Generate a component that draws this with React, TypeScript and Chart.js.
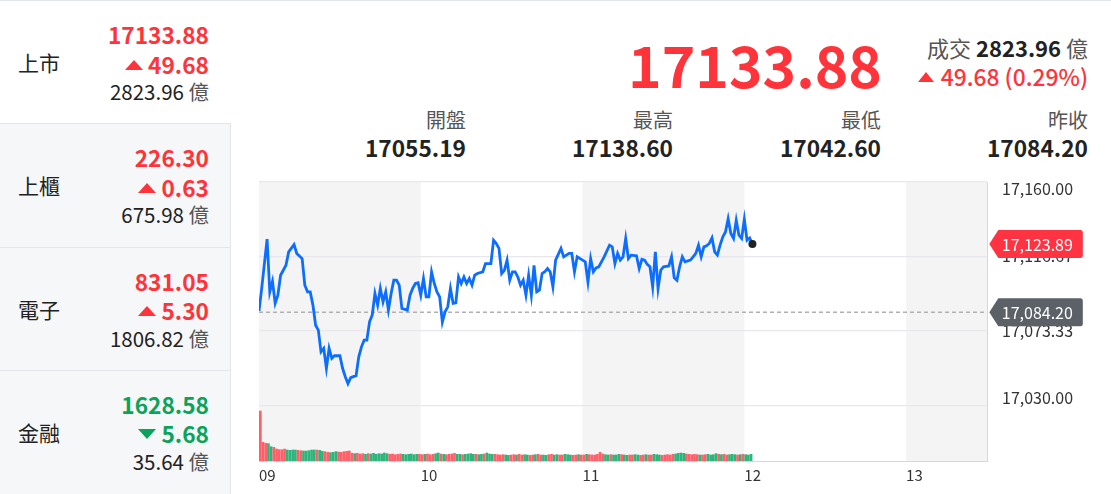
import React, { useEffect, useRef } from 'react';
import { Chart, registerables } from 'chart.js';

Chart.register(...registerables);

const FONT = '"Noto Sans CJK TC", "Noto Sans", sans-serif';
const RED = '#ff333a';
const GREEN = '#0aa35a';

// ---- sidebar data ----
const sideNames = ['上市', '上櫃', '電子', '金融'];
const sideValues = ['17133.88', '226.30', '831.05', '1628.58'];
const sideChanges = ['49.68', '0.63', '5.30', '-5.68'];
const sideVolumes = ['2823.96', '675.98', '1806.82', '35.64'];

// ---- header data ----
const lastPrice = '17133.88';
const turnover = '2823.96';
const priceChange = '49.68';
const pctChange = '0.29%';
const statLabels = ['開盤', '最高', '最低', '昨收'];
const statValues = ['17055.19', '17138.60', '17042.60', '17084.20'];

// ---- chart data ----
const hourLabels = ['09', '10', '11', '12', '13'];
const hourMinutes = [0, 60, 120, 180, 240];
const sessionEndMinute = 270;
const priceTicks = [17160, 17116.67, 17073.33, 17030];
const priceAxisMin = 16997.5;
const prevClose = 17084.2;
const lastTagPrice = 17123.89;

const lineMinutes = [
  0, 1, 3, 4, 5, 6, 7, 8, 10, 11, 13, 14, 16, 17, 18, 19, 20, 21, 22, 23,
  24, 25, 26, 27, 28, 30, 31, 32, 33, 34, 36, 37, 38, 39, 40, 41, 42, 43, 44, 45,
  46, 47, 48, 49, 50, 51, 52, 53, 55, 56, 57, 58, 59, 60, 61, 62, 63, 64, 65, 66,
  67, 68, 69, 70, 71, 72, 73, 74, 75, 76, 77, 78, 79, 80, 81, 83, 84, 86, 87, 88,
  89, 90, 91, 92, 93, 94, 95, 96, 97, 98, 99, 100, 101, 102, 103, 104, 105, 106, 107, 108,
  109, 110, 112, 113, 115, 116, 117, 118, 120, 121, 122, 123, 124, 125, 126, 128, 130, 131, 132, 133,
  134, 135, 136, 137, 138, 140, 141, 142, 143, 144, 145, 146, 147, 148, 149, 150, 152, 153, 154, 155,
  156, 157, 158, 160, 161, 162, 163, 164, 165, 166, 167, 168, 169, 170, 171, 172, 173, 174, 175, 176,
  177, 178, 179, 180, 181, 182, 183,
];
const linePrices = [
  17084.8, 17098.0, 17126.7, 17096.0, 17102.2, 17089.4, 17094.1, 17105.7, 17111.5, 17119.3,
  17123.6, 17118.4, 17115.4, 17099.9, 17096.0, 17096.0, 17088.3, 17076.6, 17073.7, 17061.1,
  17063.1, 17051.5, 17063.1, 17057.3, 17058.8, 17058.8, 17051.5, 17046.6, 17042.6, 17046.0,
  17047.2, 17058.2, 17064.0, 17067.9, 17067.9, 17078.6, 17082.5, 17095.1, 17088.3, 17098.0,
  17090.2, 17096.0, 17085.4, 17095.1, 17102.8, 17102.8, 17099.9, 17086.4, 17085.4, 17094.1,
  17098.0, 17100.9, 17101.3, 17094.1, 17103.8, 17093.1, 17093.1, 17107.7, 17100.9, 17096.0,
  17093.1, 17078.4, 17084.4, 17087.3, 17098.0, 17089.3, 17089.6, 17104.7, 17100.9, 17104.7,
  17100.9, 17103.8, 17099.9, 17105.7, 17106.7, 17107.7, 17112.5, 17112.5, 17126.1, 17124.2,
  17121.3, 17106.7, 17108.6, 17114.5, 17102.8, 17107.7, 17107.7, 17104.7, 17099.9, 17102.8,
  17094.1, 17105.7, 17094.1, 17111.5, 17096.0, 17097.0, 17106.7, 17107.7, 17109.6, 17107.7,
  17098.9, 17114.5, 17121.3, 17116.4, 17118.4, 17118.4, 17107.7, 17116.4, 17114.5, 17113.5,
  17101.8, 17115.4, 17107.7, 17110.0, 17110.6, 17116.4, 17123.2, 17122.2, 17112.5, 17118.4,
  17114.5, 17116.4, 17127.1, 17115.4, 17117.4, 17117.0, 17109.6, 17115.0, 17114.5, 17112.0,
  17110.6, 17098.9, 17119.3, 17098.0, 17108.6, 17110.6, 17111.1, 17116.4, 17104.2, 17102.8,
  17110.6, 17116.4, 17113.5, 17114.5, 17116.4, 17118.4, 17123.2, 17116.4, 17122.2, 17122.8,
  17124.2, 17127.4, 17119.3, 17117.4, 17123.2, 17128.0, 17130.9, 17138.6, 17130.0, 17127.1,
  17137.7, 17129.0, 17127.1, 17138.3, 17126.1, 17127.4, 17123.89,
];

// per-minute turnover (億), 09:00 .. 12:02
const volumes = [
  75, 28, 26.5, 26, 21.5, 20.5, 18, 17, 17, 18,
  16.5, 16, 16.5, 16.5, 16, 15.5, 15, 15, 15.5, 16.5,
  16.5, 16.5, 16, 14.5, 14, 13, 12.5, 13, 14, 13.5,
  13, 14, 14.5, 15, 11.5, 11, 11.5, 10.5, 11, 10,
  11, 10.5, 11.5, 10, 11, 10.5, 12, 11, 10, 10.5,
  9.5, 10, 10.5, 10, 9.5, 10, 10.5, 9.5, 10, 10,
  9.5, 10, 10.5, 9.5, 10, 11, 12, 10.5, 10, 9.5,
  10, 10.5, 11.5, 10, 10, 9.5, 10, 10.5, 11, 10,
  10, 9.5, 10, 10.5, 12, 10.5, 10, 10, 9.5, 9,
  9.5, 9, 8.5, 9, 9.5, 9, 10, 9, 9.5, 9,
  8.5, 9, 9.5, 10, 9, 9, 8.5, 9.5, 10, 9,
  9.5, 9, 9, 10, 9.5, 9, 8.5, 9, 9.5, 9,
  9, 10, 9.5, 9, 9, 10, 13, 10.5, 9.5, 9,
  9.5, 9, 9, 10, 9.5, 9, 8.5, 9, 9, 9.5,
  9, 8.5, 9, 9.5, 9, 9, 10, 9.5, 9, 8.5,
  9, 9.5, 9, 10, 10.5, 11.5, 12, 11.5, 10.5, 10,
  9.5, 10, 9.5, 9, 9, 9.5, 10, 9, 9.5, 11,
  10, 9.5, 10, 9, 9.5, 10, 9.5, 9, 9.5, 10,
  9.5, 9, 10,
];
const volumeDirs =
  'rrrggrrrrr' + 'ggggrrgggg' + 'grggrrgggr' + 'rrrrrgrrrg' + 'rgggggggrr' +
  'rrrggggggr' + 'rgrrrggrgr' + 'rrrggrgggg' + 'rggrgggrrr' + 'rggrrgrrgg' +
  'rrgrrggrrg' + 'grrgggrrgr' + 'rgrrrrrrgg' + 'rgggrggrrg' + 'grrgrrgggr' +
  'rrrrggggrr' + 'rrrgrrgggg' + 'rgrrgggrgr' + 'ggg';
const volumeAxisMax = 419;

const fmt = (v: number) =>
  v.toLocaleString('en-US', { minimumFractionDigits: 2, maximumFractionDigits: 2 });

const W = 1111;

function Txt(props: {
  x: number; cy: number; size: number; lh?: number; align?: 'left' | 'right';
  weight?: number | string; color?: string; children: any;
}) {
  const lh = props.lh ?? Math.round(props.size * 1.3);
  const style: any = {
    position: 'absolute',
    top: props.cy - lh / 2,
    height: lh,
    lineHeight: lh + 'px',
    fontSize: props.size,
    fontWeight: props.weight ?? 400,
    color: props.color ?? '#222',
    whiteSpace: 'nowrap',
    display: 'flex',
    alignItems: 'center',
  };
  if (props.align === 'left') style.left = props.x;
  else style.right = W - props.x;
  return <div style={style}>{props.children}</div>;
}

function Tri({ up, w, h, color, gap }: { up: boolean; w: number; h: number; color: string; gap: number }) {
  const s: any = {
    display: 'inline-block',
    width: 0,
    height: 0,
    borderLeft: `${w / 2}px solid transparent`,
    borderRight: `${w / 2}px solid transparent`,
    marginRight: gap,
  };
  if (up) s.borderBottom = `${h}px solid ${color}`;
  else s.borderTop = `${h}px solid ${color}`;
  return <span style={s} />;
}

function IntradayChart() {
  const ref = useRef<HTMLCanvasElement>(null);
  useEffect(() => {
    if (!ref.current) return;
    const bandsPlugin = {
      id: 'bands',
      beforeDraw(chart: any) {
        const { ctx, chartArea } = chart;
        const xs = chart.scales.x;
        ctx.save();
        ctx.fillStyle = '#f4f4f4';
        for (let i = 0; i < hourMinutes.length; i += 2) {
          const a = xs.getPixelForValue(hourMinutes[i]);
          const b = xs.getPixelForValue(hourMinutes[i + 1] ?? sessionEndMinute);
          ctx.fillRect(a, chartArea.top, b - a, chartArea.bottom - chartArea.top);
        }
        ctx.restore();
      },
    };
    const tagsPlugin = {
      id: 'tags',
      afterDraw(chart: any) {
        const { ctx, chartArea } = chart;
        const ys = chart.scales.y;
        const drawTag = (value: number, color: string) => {
          const y = ys.getPixelForValue(value);
          const x0 = chartArea.right + 2.3;
          const w = 93.5, h = 28, pw = 9, r = 2.5;
          ctx.save();
          ctx.fillStyle = color;
          ctx.beginPath();
          ctx.moveTo(x0, y);
          ctx.lineTo(x0 + pw, y - h / 2);
          ctx.lineTo(x0 + w - r, y - h / 2);
          ctx.quadraticCurveTo(x0 + w, y - h / 2, x0 + w, y - h / 2 + r);
          ctx.lineTo(x0 + w, y + h / 2 - r);
          ctx.quadraticCurveTo(x0 + w, y + h / 2, x0 + w - r, y + h / 2);
          ctx.lineTo(x0 + pw, y + h / 2);
          ctx.closePath();
          ctx.fill();
          ctx.fillStyle = '#fff';
          ctx.font = `16px ${FONT}`;
          ctx.textBaseline = 'middle';
          ctx.textAlign = 'left';
          ctx.fillText(fmt(value), x0 + 12.5, y + 1);
          ctx.restore();
        };
        drawTag(lastTagPrice, '#ff3341');
        drawTag(prevClose, '#5b6167');
      },
    };

    const lastIdx = lineMinutes.length - 1;
    const chart = new Chart(ref.current, {
      type: 'line',
      data: {
        datasets: [
          {
            type: 'line',
            label: '加權指數',
            data: lineMinutes.map((m, i) => ({ x: m, y: linePrices[i] })),
            borderColor: '#0c6dff',
            borderWidth: 2.8,
            tension: 0,
            pointRadius: (c: any) => (c.dataIndex === lastIdx ? 4 : 0),
            pointBackgroundColor: '#222',
            pointBorderWidth: 0,
            yAxisID: 'y',
          } as any,
          {
            type: 'line',
            label: '昨收',
            data: [
              { x: 0, y: prevClose },
              { x: sessionEndMinute, y: prevClose },
            ],
            borderColor: '#b0b0b0',
            borderWidth: 1.5,
            borderDash: [4, 3],
            pointRadius: 0,
            yAxisID: 'y',
          } as any,
          {
            type: 'bar',
            label: '成交量',
            data: volumes.map((v, i) => ({ x: i + 0.5, y: v })),
            backgroundColor: volumes.map((_, i) => (volumeDirs[i] === 'r' ? '#ff5f69' : '#2db47a')),
            barThickness: 2,
            yAxisID: 'vol',
          } as any,
        ],
      },
      options: {
        responsive: false,
        maintainAspectRatio: false,
        animation: false,
        layout: { padding: { left: 9, top: 12, right: 0, bottom: 0 } },
        plugins: { legend: { display: false }, tooltip: { enabled: false } },
        scales: {
          x: {
            type: 'linear',
            min: 0,
            max: sessionEndMinute,
            offset: false,
            grid: { display: false, drawTicks: false, offset: false },
            border: { display: true, color: '#d6d6e2', width: 1 },
            ticks: {
              align: 'start',
              padding: 5,
              color: '#333',
              autoSkip: false,
              maxRotation: 0,
              font: { family: FONT, size: 15 },
              callback: (_v: any, i: number) => hourLabels[i],
            },
            afterBuildTicks: (s: any) => {
              s.ticks = hourMinutes.map((v) => ({ value: v }));
            },
            afterFit: (s: any) => {
              s.height = 33;
              s.paddingLeft = 0;
              s.paddingRight = 0;
            },
          } as any,
          y: {
            type: 'linear',
            position: 'right',
            min: priceAxisMin,
            max: priceTicks[0],
            grid: { color: '#e8e8ec', lineWidth: 1.2, drawTicks: false },
            border: { display: true, color: '#d6d6e2', width: 1 },
            ticks: {
              padding: 15,
              color: '#333',
              autoSkip: false,
              font: { family: FONT, size: 16, lineHeight: 0.9 },
              callback: (_v: any, i: number) => {
                const s = fmt(priceTicks[i]);
                if (i === 0) return ['', s];
                if (i === priceTicks.length - 1) return [s, ''];
                return s;
              },
            },
            afterBuildTicks: (s: any) => {
              s.ticks = priceTicks.map((v) => ({ value: v }));
            },
            afterFit: (s: any) => {
              s.width = 124;
              s.paddingTop = 0;
              s.paddingBottom = 0;
            },
          } as any,
          vol: {
            type: 'linear',
            display: false,
            min: 0,
            max: volumeAxisMax,
          } as any,
        },
      },
      plugins: [bandsPlugin, tagsPlugin],
    });
    return () => chart.destroy();
  }, []);
  return (
    <canvas
      ref={ref}
      width={861}
      height={324}
      style={{ position: 'absolute', left: 250, top: 170, width: 861, height: 324 }}
    />
  );
}

export default function App() {
  useEffect(() => {
    document.body.style.margin = '0';
  }, []);
  const rowH = 123.3;
  const statRights = [466, 673, 881, 1088];
  return (
    <div
      style={{
        position: 'absolute',
        left: 0,
        top: 0,
        width: W,
        height: 494,
        background: '#fff',
        fontFamily: FONT,
        overflow: 'hidden',
      }}
    >
      {/* sidebar backgrounds */}
      {sideNames.map((_, i) => {
        const top = i * rowH;
        const h = i === sideNames.length - 1 ? 494 - top : rowH;
        const active = i === 0;
        return (
          <div
            key={'bg' + i}
            style={{
              position: 'absolute',
              left: 0,
              top,
              width: 231,
              height: h,
              boxSizing: 'border-box',
              background: active ? '#fff' : '#f6f7f9',
              borderTop: i > 0 ? '1px solid #e3e6ea' : 'none',
              borderRight: active ? 'none' : '1px solid #e3e6ea',
            }}
          />
        );
      })}
      <div style={{ position: 'absolute', left: 0, top: 0, width: W, height: 1, background: '#e3e6ea' }} />

      {/* sidebar texts */}
      {sideNames.map((name, i) => {
        const top = i * rowH;
        const neg = sideChanges[i].startsWith('-');
        const c = neg ? GREEN : RED;
        return (
          <React.Fragment key={'t' + i}>
            <Txt x={18} cy={top + 62.5} size={21} align="left" color="#222">
              {name}
            </Txt>
            <Txt x={209} cy={top + 35} size={22.7} weight={700} color={c}>
              {sideValues[i]}
            </Txt>
            <Txt x={209} cy={top + 64.5} size={22.7} weight={700} color={c}>
              <Tri up={!neg} w={18} h={10} color={c} gap={5} />
              {sideChanges[i].replace('-', '')}
            </Txt>
            <Txt x={209} cy={top + 91.5} size={20.5} color="#222">
              {sideVolumes[i]}&nbsp;<span style={{ color: '#555' }}>億</span>
            </Txt>
          </React.Fragment>
        );
      })}

      {/* header */}
      <Txt x={882} cy={62.5} size={57} lh={66} weight={700} color={RED}>
        {lastPrice}
      </Txt>
      <Txt x={1088} cy={47.5} size={22} color="#555">
        成交&nbsp;<span style={{ color: '#222', fontWeight: 700 }}>{turnover}</span>&nbsp;億
      </Txt>
      <Txt x={1088} cy={76.5} size={22.8} weight={500} color={RED}>
        <Tri up={true} w={17} h={10} color={RED} gap={7} />
        {priceChange} ({pctChange})
      </Txt>
      {statLabels.map((l, i) => (
        <Txt key={'sl' + i} x={statRights[i]} cy={120} size={20} color="#555">
          {l}
        </Txt>
      ))}
      {statValues.map((v, i) => (
        <Txt key={'sv' + i} x={statRights[i]} cy={147.5} size={22.7} weight={700} color="#222">
          {v}
        </Txt>
      ))}

      <IntradayChart />
    </div>
  );
}
